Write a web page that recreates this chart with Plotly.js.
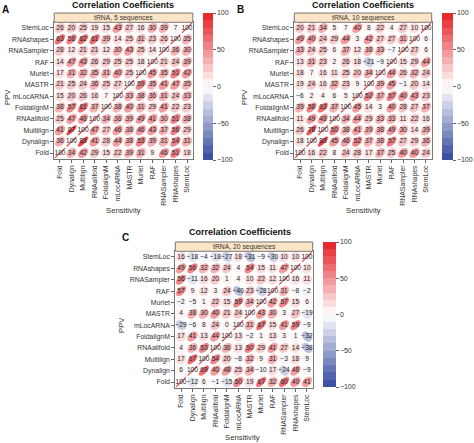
<!DOCTYPE html>
<html><head><meta charset="utf-8">
<script src="https://cdn.plot.ly/plotly-3.0.1.min.js"></script>
<style>html,body{margin:0;padding:0;background:#fff}</style>
</head><body><div id="chart" style="width:474px;height:443px"></div>
<script>
// Column (Sensitivity) order, left to right; row (PPV) order is the same, bottom to top
const methods = ["Fold","Dynalign","Multilign","RNAalifold","FoldalignM","mLocARNA","MASTR","Murlet","RAF","RNASampler","RNAshapes","StemLoc"];

// Rows listed from top (StemLoc) to bottom (Fold); columns follow `methods`
const tRNA5 = [
  [26,20,25,19,15,43,27,16,30,39,7,100],
  [63,58,62,61,39,14,25,31,23,26,100,35],
  [28,12,21,21,12,30,43,25,14,100,36,30],
  [14,47,43,26,29,25,25,18,100,21,24,39],
  [17,31,32,35,31,40,25,100,45,35,51,42],
  [21,25,24,36,25,27,100,59,35,41,47,35],
  [15,20,26,16,7,100,33,38,36,31,24,33],
  [38,57,61,37,100,38,40,31,29,41,22,23],
  [25,47,48,100,34,36,39,49,41,30,51,38],
  [41,87,100,47,27,46,38,46,43,37,56,29],
  [36,100,83,41,28,44,38,53,39,31,54,31],
  [100,34,42,29,15,22,39,31,9,46,51,18]
];
const tRNA10 = [
  [20,21,34,5,7,40,8,22,4,27,10,100],
  [49,40,24,29,44,3,42,27,27,31,100,6],
  [33,24,25,6,37,12,38,33,-7,100,27,6],
  [13,31,23,2,26,18,-21,-9,100,15,29,44],
  [18,7,16,11,25,20,34,100,44,26,32,24],
  [19,24,16,32,23,9,100,39,45,-1,20,14],
  [-6,2,4,6,5,100,52,37,57,40,43,23],
  [39,58,63,37,100,45,14,3,40,28,27,37],
  [11,49,48,100,34,44,29,33,33,11,22,16],
  [26,78,100,50,38,41,39,38,49,30,14,39],
  [18,100,83,45,46,52,37,38,57,27,29,36],
  [100,16,22,8,24,28,17,37,25,40,40,24]
];
const tRNA20 = [
  [16,-18,-4,-18,-27,18,-31,-9,-30,10,10,100],
  [49,56,32,32,24,4,54,15,11,47,100,10],
  [56,-11,16,20,1,4,10,22,12,100,16,11],
  [57,9,12,3,24,-40,23,-28,100,31,-8,-2],
  [-2,-5,1,22,15,59,34,100,42,57,15,6],
  [4,38,30,40,21,24,100,43,30,3,27,-19],
  [-29,-6,8,24,0,100,31,67,15,41,59,-9],
  [17,41,13,44,100,13,-2,1,13,3,1,-32],
  [4,36,53,100,36,13,50,29,41,27,14,-38],
  [17,67,100,54,20,-8,32,9,31,-3,18,9],
  [6,100,69,40,48,25,34,-10,17,-24,48,-9],
  [100,-12,6,-1,-15,50,19,67,32,60,40,41]
];
const matrices = [tRNA5, tRNA10, tRNA20];
const panelLetters = ["A","B","C"];
const stripLabels = ["tRNA, 5 sequences","tRNA, 10 sequences","tRNA, 20 sequences"];
const chartTitle = "Correlation Coefficients";
const xTitle = "Sensitivity";
const yTitle = "PPV";
const colorTickVals = [-100,-50,0,50,100];

// ---------- geometry (pixels) ----------
const W = 474, H = 443;
const geo = [
  {x0:54.2, x1:192.8, y0:22.3, y1:158.7, stripTop:13, cb:{x:203, y0:13, y1:160, th:10},
   title:{x:123,y:5}, letter:{x:5,y:9}, sens:{x:123,y:210}, ppv:{x:8,y:97}},
  {x0:294.3, x1:431.7, y0:22.3, y1:158.7, stripTop:13, cb:{x:442, y0:13, y1:160, th:11},
   title:{x:363,y:5}, letter:{x:240,y:9}, sens:{x:363,y:210}, ppv:{x:245,y:97}},
  {x0:175.3, x1:312.7, y0:251.3, y1:387.7, stripTop:242, cb:{x:323, y0:242, y1:387, th:13},
   title:{x:240,y:232}, letter:{x:125,y:237}, sens:{x:243,y:437}, ppv:{x:121,y:325}}
];
const px = v => v / W;
const py = v => 1 - v / H;

// ---------- colours ----------
const redEnd = [228,30,36], blueEnd = [50,72,158];
function bandColor(b){
  const t = (b + 0.5) / 10 - 1;
  const end = t >= 0 ? redEnd : blueEnd;
  const f = Math.abs(t);
  const c = end.map(e => Math.round(255 + (e - 255) * f));
  return `rgb(${c[0]},${c[1]},${c[2]})`;
}
function valueColor(v){
  const b = Math.max(0, Math.min(19, Math.floor((v + 100) / 10)));
  return bandColor(b);
}
const colorscale = [];
for (let b = 0; b < 20; b++){
  colorscale.push([b/20, bandColor(b)]);
  colorscale.push([(b+1)/20, bandColor(b)]);
}

function ellipsePath(cx, cy, v){
  const rho = Math.max(-1, Math.min(1, v / 100));
  const a = Math.acos(rho);
  const n = 48;
  let d = '';
  for (let k = 0; k < n; k++){
    const t = 2 * Math.PI * k / n;
    const x = cx + 0.85 * Math.cos(t + a/2) / 2;
    const y = cy + 0.85 * Math.cos(t - a/2) / 2;
    d += (k === 0 ? 'M' : 'L') + x.toFixed(4) + ',' + y.toFixed(4);
  }
  return d + 'Z';
}
const fmt = v => v < 0 ? '\u2212' + Math.abs(v) : String(v);

const FONT = "Liberation Sans, Arial, Helvetica, sans-serif";
const idx = methods.map((_, i) => i);
const traces = [], shapes = [], annotations = [];
const layout = {
  width: W, height: H, margin:{l:0,r:0,t:0,b:0},
  paper_bgcolor:'#fff', plot_bgcolor:'#fff', showlegend:false,
  font:{family:FONT, color:'#333'}
};

matrices.forEach((M, p) => {
  const g = geo[p];
  const sfx = p === 0 ? '' : String(p + 1);
  const xa = 'x' + sfx, ya = 'y' + sfx;
  const axCommon = {
    range:[-0.5, 11.5], tickmode:'array', tickvals: idx, ticktext: methods,
    ticks:'outside', ticklen:3, tickwidth:1, tickcolor:'#666',
    showline:true, linecolor:'#777', linewidth:1, mirror:true,
    showgrid:false, zeroline:false, fixedrange:true,
    tickfont:{size:6.9, color:'#333', family:FONT}
  };
  layout['xaxis' + sfx] = Object.assign({}, axCommon, {domain:[px(g.x0), px(g.x1)], anchor: ya, tickangle:-90});
  layout['yaxis' + sfx] = Object.assign({}, axCommon, {domain:[py(g.y1), py(g.y0)], anchor: xa});

  const tx = [], ty = [], tt = [];
  M.forEach((row, r) => {
    const y = methods.length - 1 - r;
    row.forEach((v, c) => {
      const col = valueColor(v);
      shapes.push({type:'path', xref: xa, yref: ya, layer:'below',
        path: ellipsePath(c, y, v), fillcolor: col,
        line:{color: v >= 100 ? 'rgba(215,40,40,0.85)' : col, width: v >= 100 ? 1.2 : 0.5}});
      tx.push(c); ty.push(y); tt.push(fmt(v));
    });
  });
  traces.push({type:'scatter', mode:'text', x: tx, y: ty, text: tt, xaxis: xa, yaxis: ya,
    textfont:{size:6.6, color:'#222', family:FONT}, hoverinfo:'skip', cliponaxis:false});

  // colour bar
  traces.push({type:'scatter', mode:'markers', x:[0], y:[0], xaxis: xa, yaxis: ya, hoverinfo:'skip',
    marker:{size:1, opacity:0, color:[0], cmin:-100, cmax:100, colorscale: colorscale, showscale:true,
      colorbar:{x: px(g.cb.x), xanchor:'left', y: py(g.cb.y0), yanchor:'top',
        len: g.cb.y1 - g.cb.y0, lenmode:'pixels', thickness: g.cb.th, thicknessmode:'pixels',
        xpad:0, ypad:0, outlinewidth:0, ticks:'outside', ticklen:3, tickcolor:'#666',
        tickmode:'array', tickvals: colorTickVals, ticktext: colorTickVals.map(fmt),
        tickfont:{size:7, color:'#333', family:FONT}}}});

  // strip
  shapes.push({type:'rect', xref:'paper', yref:'paper', layer:'above',
    x0: px(g.x0), x1: px(g.x1), y0: py(g.y0), y1: py(g.stripTop),
    fillcolor:'#fce5c6', line:{color:'#777', width:1}});
  annotations.push({xref:'paper', yref:'paper', x: px((g.x0 + g.x1)/2), y: py((g.y0 + g.stripTop)/2),
    text: stripLabels[p], showarrow:false, xanchor:'center', yanchor:'middle',
    font:{size:6.8, color:'#333', family:FONT}});
  // titles
  annotations.push({xref:'paper', yref:'paper', x: px(g.title.x), y: py(g.title.y), text:'<b>' + chartTitle + '</b>',
    showarrow:false, xanchor:'center', yanchor:'middle', font:{size:9, color:'#111', family:FONT}});
  annotations.push({xref:'paper', yref:'paper', x: px(g.letter.x), y: py(g.letter.y), text:'<b>' + panelLetters[p] + '</b>',
    showarrow:false, xanchor:'center', yanchor:'middle', font:{size:10, color:'#111', family:FONT}});
  annotations.push({xref:'paper', yref:'paper', x: px(g.sens.x), y: py(g.sens.y), text: xTitle,
    showarrow:false, xanchor:'center', yanchor:'middle', font:{size:7.7, color:'#333', family:FONT}});
  annotations.push({xref:'paper', yref:'paper', x: px(g.ppv.x), y: py(g.ppv.y), text: yTitle, textangle:-90,
    showarrow:false, xanchor:'center', yanchor:'middle', font:{size:7.7, color:'#333', family:FONT}});
});
layout.shapes = shapes;
layout.annotations = annotations;

Plotly.newPlot('chart', traces, layout, {staticPlot:true, displayModeBar:false});
</script></body></html>
